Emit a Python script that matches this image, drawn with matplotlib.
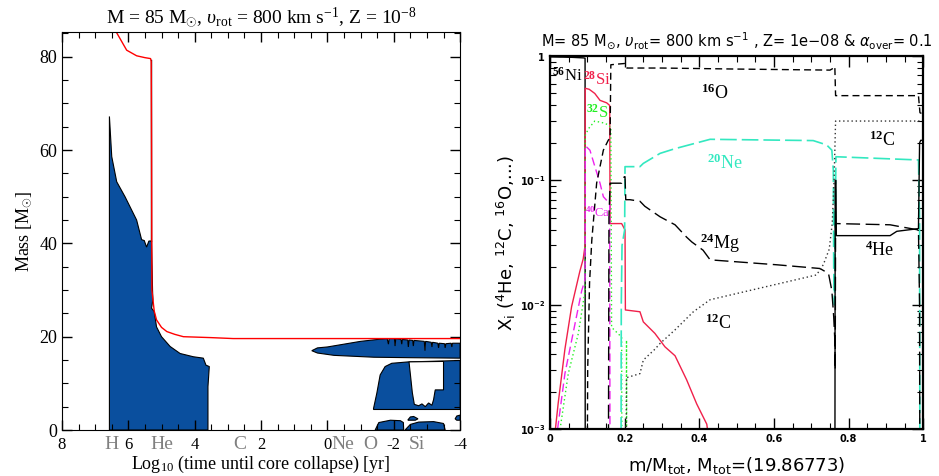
import matplotlib
matplotlib.use("Agg")
import matplotlib.pyplot as plt
from matplotlib.ticker import MultipleLocator, FixedLocator, NullFormatter, LogLocator

plt.rcParams['mathtext.fontset'] = 'custom'
plt.rcParams['mathtext.rm'] = 'Liberation Serif'
plt.rcParams['mathtext.it'] = 'Liberation Serif:italic'
plt.rcParams['mathtext.bf'] = 'Liberation Serif:bold'

# ---------------- Left panel data (Kippenhahn diagram) ----------------
burn_labels = ["H", "He", "C", "Ne", "O", "Si"]
burn_pos = [6.52, 5.0, 2.63, -0.47, -1.29, -2.7]
left_xticks = [8, 6, 4, 2, 0, -2, -4]
left_yticks = [0, 20, 40, 60, 80]

# total mass (red line)
mtot_x = [6.38, 6.30, 6.05, 5.75, 5.50, 5.33, 5.31, 5.30, 5.29, 5.22, 5.15, 5.00, 4.84, 4.60, 4.34, 3.50, 2.84, 1.00, -4.0]
mtot_y = [85.5, 84.5, 81.4, 80.2, 79.8, 79.6, 79.0, 60.0, 30.0, 25.5, 23.6, 22.0, 21.1, 20.5, 20.0, 19.8, 19.6, 19.6, 19.6]

# black edge line near He ignition
edge_x = [5.33, 5.33]
edge_y = [79.3, 40.5]

# convective H core / envelope zone
zh_x = [6.57, 6.57, 6.50, 6.35, 6.10, 5.75, 5.60, 5.52, 5.45, 5.38, 5.30, 5.27, 5.26, 5.30, 5.22,
        5.15, 5.00, 4.74, 4.44, 4.04, 3.74, 3.66, 3.56, 3.60, 3.60]
zh_y = [0, 67.2, 58.6, 53.2, 50.0, 45.0, 40.8, 40.6, 39.2, 40.5, 40.5, 30.0, 27.9, 26.1, 25.4,
        22.1, 20.0, 17.9, 16.4, 15.7, 15.4, 13.9, 13.6, 9.3, 0]

# outer shell zone (Ne/O)
za_top_x = [0.47, 0.30, 0.0, -0.5, -1.0, -1.5, -1.80, -1.84, -1.86, -2.02, -2.04, -2.06, -2.22, -2.24,
            -2.26, -2.42, -2.44, -2.46, -2.57, -2.59, -2.61, -2.92, -2.94, -2.96, -3.13, -3.15, -3.17,
            -3.33, -3.35, -3.37, -3.53, -3.55, -3.57, -3.73, -3.75, -3.77, -4.0]
za_top_y = [17.0, 17.6, 17.8, 18.4, 19.0, 19.4, 19.6, 18.4, 19.6, 19.6, 18.0, 19.6, 19.4, 18.4,
            19.4, 19.3, 17.8, 19.3, 19.2, 18.0, 19.2, 19.0, 17.0, 19.0, 18.8, 17.8, 18.8,
            18.6, 17.6, 18.6, 18.5, 17.6, 18.5, 18.6, 17.8, 18.6, 18.6]
za_bot_x = [-4.0, -2.5, -1.4, -0.2, 0.3, 0.47]
za_bot_y = [15.4, 15.5, 15.6, 16.0, 16.5, 17.0]

# O shell zone
zb_x = [-1.39, -1.49, -1.59, -1.74, -1.94, -2.44, -3.0, -3.5, -3.95, -4.0, -4.0, -1.39]
zb_y = [4.6, 7.9, 11.8, 13.6, 14.3, 14.6, 14.7, 14.8, 14.9, 14.9, 4.4, 4.4]
hole_x = [-2.46, -2.50, -2.56, -2.62, -2.75, -2.85, -2.95, -3.05, -3.15, -3.20, -3.25, -3.50, -3.50]
hole_y = [14.6, 12.0, 8.0, 5.5, 5.2, 5.6, 5.0, 5.8, 5.3, 6.5, 8.6, 8.6, 14.7]

# small Si-burning zones
zc1_x = [-1.44, -1.55, -1.9, -2.2, -2.29, -2.30]
zc1_y = [0, 1.6, 2.1, 2.0, 1.6, 0]
zc2_x = [-2.43, -2.50, -2.60, -2.73, -2.65, -2.43]
zc2_y = [2.2, 2.8, 2.9, 2.4, 2.1, 2.1]
zc3_x = [-2.34, -2.50, -2.75, -3.2, -3.50, -3.55]
zc3_y = [0, 1.2, 1.7, 1.8, 1.4, 0]
zc4_x = [-3.85, -3.9, -4.0, -4.0, -3.9]
zc4_y = [2.4, 3.0, 3.2, 2.1, 2.1]

# ---------------- Right panel data (abundance profiles) ----------------
ni_x = [0.0, 0.03, 0.06, 0.09, 0.094, 0.0945]
ni_y = [0.985, 0.98, 0.975, 0.965, 0.96, 1e-4]

si_x = [0.011, 0.022, 0.040, 0.058, 0.080, 0.089, 0.094, 0.0945, 0.105, 0.120, 0.134, 0.152, 0.160,
        0.161, 0.170, 0.192, 0.201, 0.202, 0.241, 0.250, 0.281, 0.308, 0.335, 0.366, 0.393, 0.420, 0.424]
si_y = [8e-4, 1.62e-3, 4.4e-3, 9.7e-3, 0.0186, 0.0234, 0.03, 0.55, 0.54, 0.50, 0.44, 0.42, 0.40,
        0.045, 0.045, 0.045, 0.040, 0.0091, 0.0088, 0.0073, 0.0059, 0.0046, 0.0039, 0.0025, 0.0016, 0.0011, 9e-4]

s_x = [0.027, 0.049, 0.076, 0.094, 0.0945, 0.103, 0.120, 0.143, 0.156, 0.161, 0.163, 0.165, 0.192,
       0.193, 0.204, 0.205, 0.206]
s_y = [1e-3, 2.8e-3, 5.9e-3, 0.013, 0.23, 0.26, 0.30, 0.29, 0.28, 0.27, 0.27, 0.0066, 0.0055,
       1e-4, 1e-4, 0.0052, 1e-4]

ca_x = [0.016, 0.040, 0.085, 0.094, 0.0945, 0.107, 0.120, 0.134, 0.143, 0.156, 0.160, 0.161]
ca_y = [8e-4, 2.8e-3, 0.013, 0.016, 0.19, 0.175, 0.13, 0.095, 0.074, 0.067, 0.065, 1e-4]

o_x = [0.099, 0.101, 0.106, 0.112, 0.125, 0.143, 0.156, 0.161, 0.163, 0.180, 0.200, 0.206, 0.300,
       0.500, 0.750, 0.760, 0.763, 0.765, 0.766, 0.900, 0.987, 0.991, 1.0]
o_y = [1e-4, 0.003, 0.015, 0.033, 0.095, 0.175, 0.21, 0.22, 0.85, 0.86, 0.87, 0.80, 0.80,
       0.785, 0.77, 0.80, 0.82, 0.48, 0.48, 0.48, 0.48, 0.35, 0.34]

ne_x = [0.190, 0.191, 0.193, 0.200, 0.201, 0.241, 0.250, 0.295, 0.335, 0.429, 0.705, 0.741, 0.755,
        0.759, 0.760, 0.762, 0.764, 0.766, 0.987, 0.990, 0.991]
ne_y = [1e-4, 0.01, 0.03, 0.04, 0.129, 0.129, 0.137, 0.165, 0.18, 0.214, 0.209, 0.193, 0.175,
        0.12, 0.02, 0.01, 0.05, 0.155, 0.146, 0.05, 1e-4]

mg_x = [0.156, 0.158, 0.161, 0.192, 0.199, 0.201, 0.203, 0.214, 0.241, 0.254, 0.295, 0.335, 0.366,
        0.380, 0.410, 0.429, 0.607, 0.723, 0.746, 0.755, 0.760, 0.763, 0.764, 0.765, 0.911, 0.938,
        0.987, 0.990, 0.991]
mg_y = [1e-4, 0.05, 0.095, 0.095, 0.107, 0.107, 0.070, 0.070, 0.068, 0.062, 0.051, 0.044, 0.035,
        0.032, 0.0275, 0.023, 0.021, 0.0196, 0.0179, 0.013, 0.008, 0.0052, 0.003, 0.045, 0.044, 0.0425,
        0.040, 0.01, 1e-4]

c_x = [0.204, 0.205, 0.241, 0.250, 0.281, 0.295, 0.335, 0.384, 0.429, 0.714, 0.732, 0.748, 0.756,
       0.761, 0.765, 0.991]
c_y = [1e-4, 0.0026, 0.0028, 0.0036, 0.0044, 0.0049, 0.0063, 0.0088, 0.011, 0.0174, 0.021, 0.028, 0.045,
       0.1, 0.30, 0.30]

he_x = [0.763, 0.764, 0.766, 0.767, 0.911, 0.929, 0.987, 0.990, 0.993, 1.0]
he_y = [1e-4, 0.1, 0.1, 0.036, 0.036, 0.039, 0.041, 0.2, 0.21, 0.21]

iso_labels = [
    (r"$^{\mathbf{56}}$Ni", 0.005, 0.70, "black", 12),
    (r"$^{\mathbf{28}}$Si", 0.126, 0.64, "#f0204a", 12),
    (r"$^{\mathbf{32}}$S", 0.126, 0.35, "#22ee22", 12),
    (r"$^{\mathbf{40}}$Ca", 0.128, 0.055, "#ee22ee", 9),
    (r"$^{\mathbf{16}}$O", 0.442, 0.50, "black", 13),
    (r"$^{\mathbf{20}}$Ne", 0.469, 0.138, "#33e8c0", 13),
    (r"$^{\mathbf{24}}$Mg", 0.455, 0.0314, "black", 13),
    (r"$^{\mathbf{12}}$C", 0.45, 0.00714, "black", 13),
    (r"$^{\mathbf{12}}$C", 0.889, 0.211, "black", 13),
    (r"$^{\mathbf{4}}$He", 0.884, 0.0275, "black", 13),
]
right_xticks = [0, 0.2, 0.4, 0.6, 0.8, 1]
right_yticks = [1e-3, 1e-2, 1e-1, 1]
right_yticklabels = [r"$\mathbf{10^{-3}}$", r"$\mathbf{10^{-2}}$", r"$\mathbf{10^{-1}}$", r"$\mathbf{1}$"]

# ---------------- Figure ----------------
fig = plt.figure(figsize=(9.39, 4.76), dpi=100)
serif = "Liberation Serif"
blue = "#0a4f9e"

axl = fig.add_axes([0.066, 0.0966, 0.424, 0.8362])
for px, py in [(zh_x, zh_y), (zb_x, zb_y), (zc1_x, zc1_y), (zc2_x, zc2_y), (zc3_x, zc3_y), (zc4_x, zc4_y)]:
    axl.fill(px, py, facecolor=blue, edgecolor="black", linewidth=0.8)
axl.fill(za_top_x + za_bot_x, za_top_y + za_bot_y, facecolor=blue, edgecolor="black", linewidth=0.8)
axl.fill(hole_x, hole_y, facecolor="white", edgecolor="black", linewidth=0.8)
axl.plot(edge_x, edge_y, color="black", lw=1.0)
axl.plot(mtot_x, mtot_y, color="red", lw=1.0)
axl.set_xlim(8, -4)
axl.set_ylim(0, 85.3)
axl.xaxis.set_major_locator(FixedLocator(left_xticks))
axl.xaxis.set_minor_locator(MultipleLocator(0.5))
axl.yaxis.set_major_locator(FixedLocator(left_yticks))
axl.yaxis.set_minor_locator(MultipleLocator(5))
axl.tick_params(which="both", direction="in", top=True, right=True)
axl.tick_params(which="major", length=7, width=1)
axl.tick_params(which="minor", length=4, width=0.8)
axl.tick_params(axis="x", which="major", pad=5)
axl.set_xticklabels([str(t) for t in left_xticks], fontfamily=serif, fontsize=12)
axl.set_yticklabels([str(t) for t in left_yticks], fontfamily=serif, fontsize=13)
for lab, pos in zip(burn_labels, burn_pos):
    axl.text(pos, -0.014, lab, transform=axl.get_xaxis_transform(), ha="center", va="top",
             color="#808080", fontsize=14, fontfamily=serif)
axl.set_xlabel(r"Log$_{10}$ (time until core collapse) [yr]", fontfamily=serif, fontsize=13, labelpad=1)
axl.set_ylabel(r"Mass [M$_{\odot}$]", fontfamily=serif, fontsize=13, labelpad=4)
axl.set_title(r"M = 85 M$_{\odot}$, $\upsilon_{\rm rot}$ = 800 km s$^{-1}$, Z = 10$^{-8}$",
              fontfamily=serif, fontsize=14, pad=7)

axr = fig.add_axes([0.5857, 0.0981, 0.3976, 0.7843])
axr.plot(ni_x, ni_y, color="black", lw=1.0)
axr.plot(si_x, si_y, color="#f0204a", lw=1.0)
axr.plot(s_x, s_y, color="#22ee22", lw=1.0, linestyle=(0, (1, 2)))
axr.plot(ca_x, ca_y, color="#ee22ee", lw=1.0, linestyle=(0, (6, 3)))
axr.plot(o_x, o_y, color="black", lw=1.0, linestyle=(0, (5, 3)))
axr.plot(ne_x, ne_y, color="#33e8c0", lw=1.2, linestyle=(0, (10, 3)))
axr.plot(mg_x, mg_y, color="black", lw=1.0, linestyle=(0, (10, 4)))
axr.plot(c_x, c_y, color="#333333", lw=1.0, linestyle=(0, (1, 2)))
axr.plot(he_x, he_y, color="black", lw=1.0)
axr.set_yscale("log")
axr.set_xlim(0, 1)
axr.set_ylim(1e-3, 1)
axr.xaxis.set_major_locator(FixedLocator(right_xticks))
axr.xaxis.set_minor_locator(MultipleLocator(0.05))
axr.yaxis.set_major_locator(FixedLocator(right_yticks))
axr.yaxis.set_minor_locator(LogLocator(base=10, subs=range(2, 10)))
axr.yaxis.set_minor_formatter(NullFormatter())
axr.tick_params(which="both", direction="in", top=True, right=True)
axr.tick_params(which="major", length=8, width=1)
axr.tick_params(which="minor", length=4, width=0.8)
axr.set_xticklabels(["0", "0.2", "0.4", "0.6", "0.8", "1"], fontfamily="DejaVu Sans",
                    fontweight="bold", fontsize=7)
axr.set_yticklabels(right_yticklabels, fontsize=7, math_fontfamily="dejavusans")
for sp in axr.spines.values():
    sp.set_linewidth(1.6)
for txt, x, y, col, fs in iso_labels:
    axr.text(x, y, txt, color=col, fontsize=fs, fontfamily=serif, ha="left" if txt.endswith("Ni") else "center",
             va="center", math_fontfamily="custom")
axr.set_xlabel(r"m/M$_{\rm tot}$, M$_{\rm tot}$=(19.86773)", fontfamily="DejaVu Sans", fontsize=13,
               labelpad=8, math_fontfamily="dejavusans")
axr.set_ylabel(r"X$_{\rm i}$ ($^{4}$He, $^{12}$C, $^{16}$O,...)", fontfamily="DejaVu Sans", fontsize=13,
               labelpad=1, math_fontfamily="dejavusans")
axr.set_title(r"M= 85 M$_{\odot}$, $\upsilon_{\rm rot}$= 800 km s$^{-1}$ , Z= 1e$-$08 & $\alpha_{\rm over}$= 0.1",
              fontfamily="DejaVu Sans", fontsize=10.5, pad=7, math_fontfamily="dejavusans")

fig.savefig("out.png", dpi=100)
